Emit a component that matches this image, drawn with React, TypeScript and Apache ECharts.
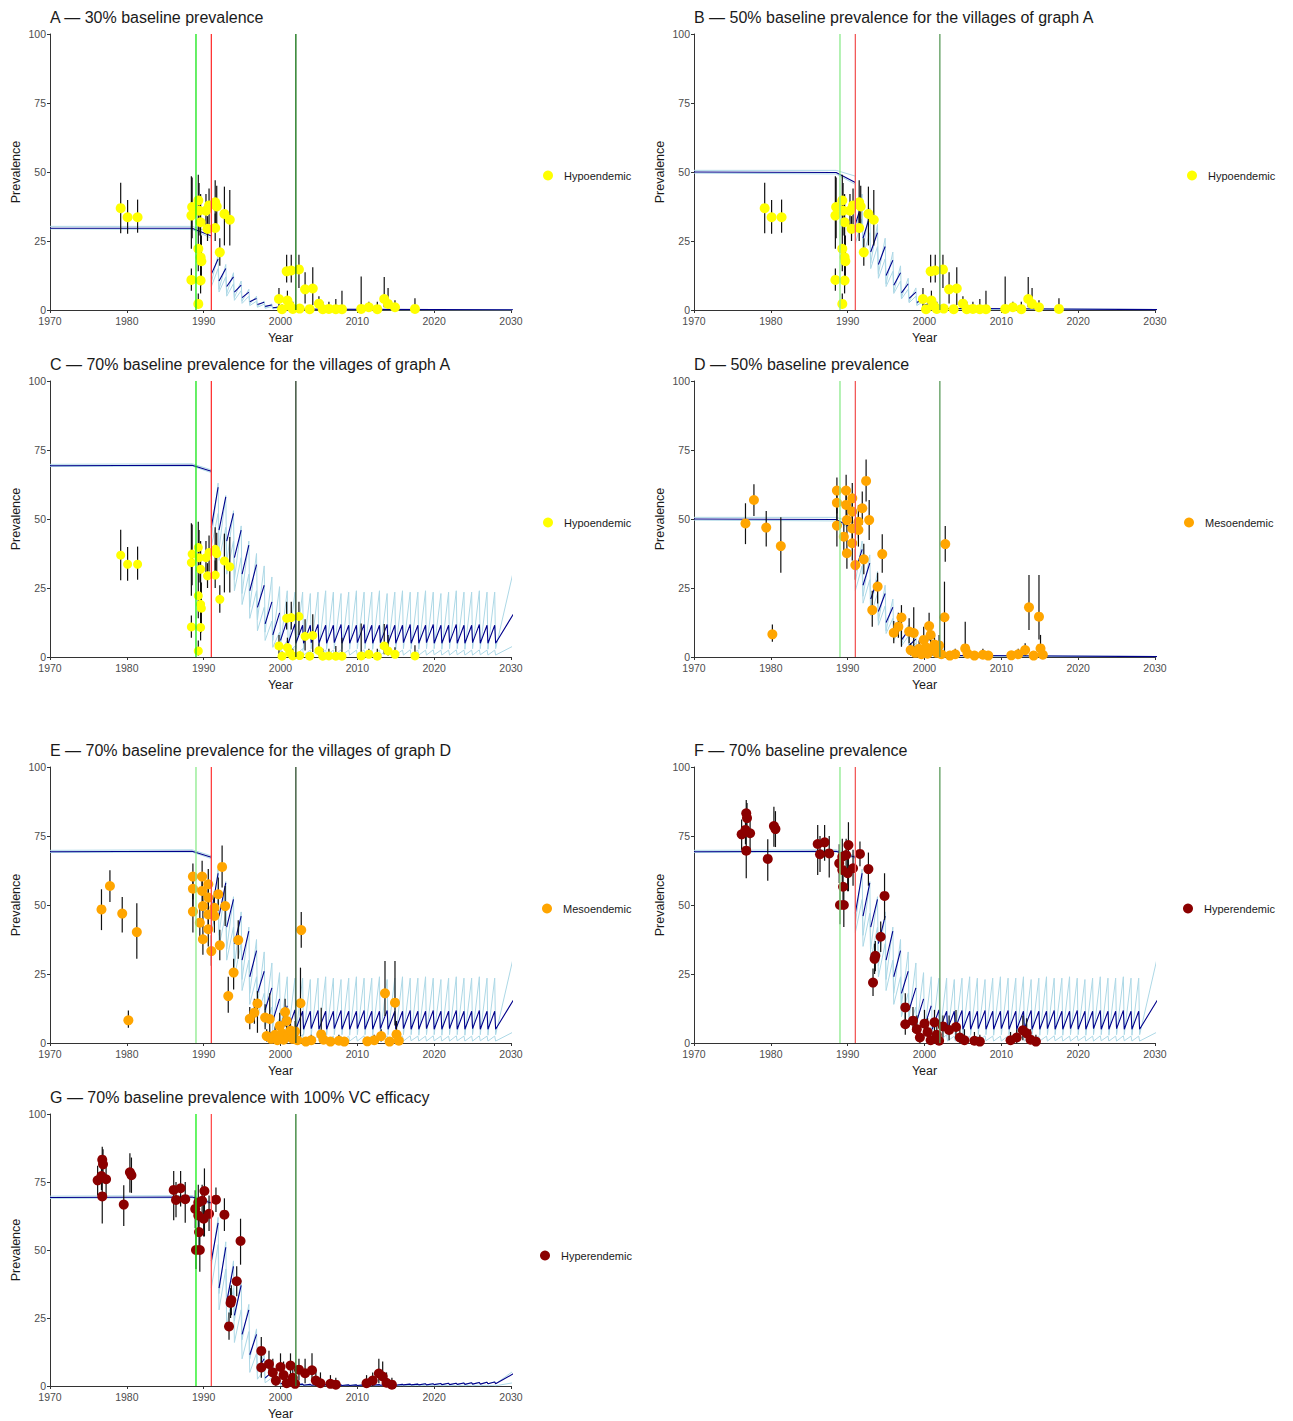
import { useEffect, useRef } from 'react';
import * as echarts from 'echarts';

// Village surveys: [year, prevalence, lower 95% CI, upper 95% CI]
const hypoendemic: number[][] = [
  [1979.2, 36.9, 27.8, 46.1], [1980.1, 33.6, 27.6, 39.9], [1981.4, 33.6, 28, 40],
  [1988.4, 34.2, 22.2, 48.5], [1988.5, 37.3, 26, 48], [1989.3, 39.7, 30, 49],
  [1989.4, 36, 27, 46], [1989.6, 31.8, 22, 42], [1990.3, 36, 30, 42],
  [1990.7, 37.9, 31, 44], [1990.5, 29.4, 25, 34], [1991.5, 39, 31, 47],
  [1991.7, 37.5, 30, 45], [1991.5, 29.7, 25, 35], [1992.7, 34.8, 23.4, 44.7],
  [1993.4, 32.7, 23.4, 43.5], [1992.1, 20.9, 16, 26], [1989.3, 22.2, 14, 30],
  [1989.6, 19.1, 12, 27], [1989.7, 17.7, 9, 27], [1988.4, 10.9, 7, 15],
  [1989.6, 10.7, 6, 16], [1989.3, 2.2, 0.5, 6], [1999.8, 4, 1, 8],
  [2000.8, 14, 10, 20], [2001.4, 14.3, 10, 20], [2002.4, 14.7, 8, 20],
  [2003.2, 7.5, 2.4, 13.7], [2004.2, 7.8, 1.8, 15.5], [2000.9, 3.4, 1, 7],
  [2001.2, 1.5, 0, 4], [2005.0, 2.3, 0.5, 5], [2000.2, 0.3, 0, 2],
  [2001.6, 0.4, 0, 3], [2002.5, 0.5, 0, 2], [2003.8, 0.3, 0, 1.5],
  [2005.5, 0.3, 0, 3], [2006.3, 0.4, 0, 3], [2007.2, 0.3, 0, 4],
  [2008.0, 0.3, 0, 7], [2010.5, 0.4, 0, 12.1], [2011.5, 1, 0, 3],
  [2012.6, 0.3, 0, 3], [2013.5, 4, 1, 12], [2014.0, 2.2, 0.5, 8],
  [2014.9, 1, 0, 3.5], [2017.5, 0.4, 0, 4.3],
];

const mesoendemic: number[][] = [
  [1976.7, 48.4, 40.9, 55.7], [1977.8, 56.9, 51.1, 62.6], [1979.4, 46.9, 40, 52.9],
  [1981.3, 40.2, 30.5, 50.6], [1980.2, 8.2, 5.5, 11.8], [1988.6, 60.3, 52, 65],
  [1988.6, 55.9, 49, 62], [1988.6, 47.6, 40, 55], [1989.8, 60.3, 54, 66],
  [1989.8, 55.1, 48, 62], [1989.9, 49.6, 43, 56], [1989.5, 43.6, 37, 50],
  [1989.9, 37.6, 32, 44], [1990.6, 57.5, 51, 63], [1990.6, 52.7, 46, 59],
  [1990.6, 46.6, 40, 53], [1990.6, 41.2, 35, 47], [1991.0, 33.3, 28, 39],
  [1991.4, 49, 43, 55], [1991.4, 46, 40, 52], [1991.9, 53.9, 48, 60],
  [1992.4, 63.8, 56.3, 71.6], [1992.1, 35.4, 30, 41], [1992.8, 49.6, 42.4, 56.9],
  [1994.5, 37.3, 30.5, 44.5], [1993.9, 25.5, 19.4, 30.5], [1993.2, 17, 11, 24],
  [1996.0, 8.8, 5, 13], [1996.6, 11, 7, 16], [1997.0, 14.3, 3.7, 18.8],
  [1998.0, 9.2, 5, 14], [1998.6, 8.7, 3, 18], [2000.6, 11.2, 6, 16],
  [2000.8, 8, 4, 12], [1999.9, 6.2, 3, 11], [2002.7, 40.9, 34.5, 47.5],
  [2002.6, 14.4, 1.3, 27.3], [1998.2, 2.5, 0.5, 5], [1998.8, 1.5, 0, 4],
  [1999.3, 3, 1, 6], [1999.6, 1, 0, 3], [2000.2, 3.5, 1, 7],
  [2000.4, 1.2, 0, 4], [2001.0, 2.8, 0.5, 6], [2001.3, 4.5, 2, 8],
  [2001.6, 1.5, 0, 5], [2001.9, 4.2, 1.5, 8], [2002.2, 1, 0, 4],
  [2003.3, 0.5, 0, 2], [2004.0, 1, 0, 3], [2005.3, 3.1, 0, 12.8],
  [2005.6, 1.2, 0, 4], [2006.5, 0.5, 0, 2], [2007.6, 0.8, 0, 3],
  [2008.3, 0.5, 0, 2], [2011.3, 0.6, 0, 2], [2012.2, 1, 0, 3],
  [2013.1, 2.5, 0.5, 5], [2013.6, 18, 9.8, 29.7], [2014.9, 14.6, 6.3, 29.7],
  [2015.1, 3.1, 0.5, 8], [2015.4, 0.8, 0, 3], [2014.2, 0.5, 0, 2],
];

const hyperendemic: number[][] = [
  [1976.8, 83.2, 77, 88], [1976.9, 81.5, 76, 87], [1976.2, 75.6, 70, 81],
  [1977.3, 76, 70, 82], [1976.8, 69.7, 59.7, 76], [1976.7, 77.2, 72, 83],
  [1980.4, 78.6, 71.1, 85.6], [1980.6, 77.5, 71, 84], [1979.6, 66.7, 58.8, 73.8],
  [1986.1, 72.1, 60.9, 79], [1987.0, 72.7, 66, 79], [1986.4, 68.4, 62, 75],
  [1987.6, 68.7, 60, 75], [1988.9, 65.1, 58, 72], [1989.3, 67.5, 61, 74],
  [1989.8, 68.1, 62, 74], [1990.1, 71.7, 55, 80], [1990.0, 61.5, 55, 68],
  [1989.3, 62.7, 56, 69], [1990.7, 63.3, 57, 70], [1989.4, 56.6, 50, 63],
  [1989.0, 50, 43, 57], [1989.5, 50, 42, 58], [1991.6, 68.5, 64, 73],
  [1992.7, 63, 57, 69], [1994.8, 53.3, 44.6, 61.5], [1994.3, 38.5, 33, 44],
  [1993.6, 31.6, 26, 37], [1993.5, 30.5, 25, 36], [1993.3, 21.9, 17, 27],
  [1997.5, 12.9, 8, 18], [1997.5, 6.8, 3, 11], [1998.5, 8.1, 4, 13],
  [1999.0, 5, 1, 10], [1999.4, 2, 0, 6], [2000.0, 7, 3, 12],
  [2000.4, 4, 1, 9], [2000.8, 1, 0, 5], [2001.3, 7.5, 3, 12],
  [2001.6, 3, 0, 8], [2001.9, 0.8, 0, 4], [2002.4, 6, 2, 10],
  [2003.2, 4.7, 1, 10], [2004.1, 5.8, 2, 12], [2004.6, 2, 0, 6],
  [2005.2, 1, 0, 5], [2006.5, 0.8, 0, 4], [2007.2, 0.5, 0, 3],
  [2011.2, 1, 0, 4], [2012.0, 2, 0, 5], [2012.8, 4.6, 1, 10],
  [2013.3, 3.5, 0.5, 9], [2013.8, 1.2, 0, 5], [2014.5, 0.5, 0, 3],
];

// Treatment rounds (one tooth of the simulated curve per round)
const roundsA = [1991, 1992, 1993, 1994, 1995, 1996, 1997, 1998, 1999, 2000, 2001];
const roundsB = [1991, 1992, 1993, 1994, 1995, 1996, 1997, 1998, 1999, 2000, 2001, 2002];
const roundsLong = [
  1991, 1992, 1993, 1994, 1995, 1996, 1997, 1998, 1999, 2000,
  2001, 2002, 2003, 2004, 2005, 2006, 2007, 2008, 2009, 2010,
  2011, 2012, 2013, 2014, 2015, 2016, 2017, 2018, 2019, 2020,
  2021, 2022, 2023, 2024, 2025, 2026, 2027, 2028,
];

// Pre-control equilibrium segments: [year, prevalence]
const pre30 = {
  upper: [[1970, 30.3], [1988.5, 30.3], [1991, 28]],
  median: [[1970, 29.6], [1988.5, 29.6], [1991, 26.8]],
  lower: [[1970, 29.4], [1988.5, 29.2], [1991, 26]],
};
const pre50 = {
  upper: [[1970, 50.6], [1988.5, 50.6], [1991, 48.5]],
  median: [[1970, 50], [1988.5, 49.8], [1991, 46.2]],
  lower: [[1970, 49.6], [1988.5, 49.3], [1991, 45.5]],
};
const pre70 = {
  upper: [[1970, 69.8], [1988.5, 70], [1991, 67.8]],
  median: [[1970, 69.3], [1988.5, 69.5], [1991, 67.3]],
  lower: [[1970, 69], [1988.5, 69.2], [1991, 66.8]],
};

// 30% baseline: value right after each round (lo) and just before the next (hi)
const a30UpperLo = [10, 7.5, 6, 4.5, 3.2, 2.2, 1.4, 0.9, 0.6, 0.4, 0.2];
const a30UpperHi = [20, 16.5, 13.5, 10.5, 7.5, 5, 3.2, 2.2, 1.4, 0.9, 0.1];
const a30MedianLo = [13, 10.5, 8.5, 6.5, 4.5, 3, 2, 1.3, 0.8, 0.5, 0.3];
const a30MedianHi = [18.5, 15, 12, 9, 6.5, 4.2, 2.8, 1.8, 1.1, 0.7, 0.1];
const a30LowerLo = [8.5, 6.5, 5, 3.5, 2.4, 1.6, 1, 0.6, 0.4, 0.2, 0.1];
const a30LowerHi = [15, 12, 9.5, 7, 5, 3.2, 2.1, 1.3, 0.8, 0.5, 0.05];

// 50% baseline
const b50UpperLo = [27, 22, 17, 13, 9.5, 6.5, 4.5, 3, 2, 1.2, 0.8, 0.5];
const b50UpperHi = [42, 37, 31, 26, 21, 16, 11.5, 8, 5, 3.2, 2, 0.2];
const b50MedianLo = [31, 26, 21, 16.5, 12.5, 9, 6.2, 4.2, 2.7, 1.7, 1.1, 0.6];
const b50MedianHi = [39, 34, 28, 23, 18, 13.5, 9.5, 6.5, 4.2, 2.7, 1.7, 0.15];
const b50LowerLo = [24, 19.5, 15, 11.5, 8.5, 6, 4, 2.6, 1.6, 1, 0.6, 0.3];
const b50LowerHi = [33, 28, 23, 18.5, 14, 10.5, 7.5, 5, 3.2, 2, 1.2, 0.1];

// 70% baseline
const c70UpperLo = [
  43, 39, 34, 28, 23, 18, 13.5, 9, 6, 4, 3, 3,
  2.8, 3, 3, 2.8, 3, 3, 2.8, 3, 3, 2.8, 3, 3, 2.8, 3,
  3, 2.8, 3, 3, 2.8, 3, 3, 2.8, 3, 3, 2.8, 3,
];
const c70UpperHi = [
  63, 58.5, 53, 47.5, 42, 37.5, 33, 29, 25.5, 24, 23.5, 23.5,
  23, 23.5, 24, 23.5, 23, 23.5, 24, 23.5, 23.5, 24, 23, 23.5, 24, 23.5,
  23.5, 24, 23.5, 23, 23.5, 24, 23.5, 23.5, 24, 23.5, 23.5, 31,
];
const c70MedianLo = [
  47, 46, 42, 36, 30, 24, 18, 12, 8, 6, 5, 5,
  5, 5.2, 5, 5, 5.2, 5, 5, 5.2, 5, 5, 5.2, 5, 5, 5.2,
  5, 5, 5.2, 5, 5, 5.2, 5, 5, 5.2, 5, 5, 5,
];
const c70MedianHi = [
  61.5, 58, 52, 46, 40.5, 33.5, 26, 20, 16, 13.5, 12, 11.5,
  11.5, 11.8, 11.5, 11.5, 11.8, 11.5, 11.5, 11.8, 11.5, 11.5, 11.8, 11.5, 11.5, 11.8,
  11.5, 11.5, 11.8, 11.5, 11.5, 11.8, 11.5, 11.5, 11.8, 11.5, 11.5, 15.5,
];
const c70LowerLo = [
  40, 35, 30, 24, 19, 14, 9.5, 6, 3.5, 2, 1.2, 0.8,
  0.7, 0.7, 0.8, 0.7, 0.7, 0.8, 0.7, 0.7, 0.8, 0.7, 0.7, 0.8, 0.7, 0.7,
  0.8, 0.7, 0.7, 0.8, 0.7, 0.7, 0.8, 0.7, 0.7, 0.8, 0.7, 0.7,
];
const c70LowerHi = [
  52, 47, 42, 36, 30, 24, 18, 13, 9, 6, 4, 3,
  2.5, 2.6, 2.5, 2.5, 2.6, 2.5, 2.5, 2.6, 2.5, 2.5, 2.6, 2.5, 2.5, 2.6,
  2.5, 2.5, 2.6, 2.5, 2.5, 2.6, 2.5, 2.5, 2.6, 2.5, 2.5, 4,
];

// 70% baseline with 100% vector-control efficacy
const g70UpperLo = [
  44, 34, 29, 24, 17, 10, 5, 2.5, 1.3, 0.7,
  0.5, 0.4, 0.3, 0.3, 0.2, 0.2, 0.2, 0.2, 0.2, 0.2, 0.2, 0.3, 0.3, 0.3,
  0.3, 0.4, 0.4, 0.4, 0.4, 0.5, 0.5, 0.5, 0.6, 0.6, 0.7, 0.7, 0.8, 0.8,
];
const g70UpperHi = [
  62, 53, 46, 39, 30, 21, 12, 6, 3, 1.6,
  1, 0.8, 0.7, 0.6, 0.6, 0.5, 0.5, 0.5, 0.5, 0.5, 0.6, 0.6, 0.6, 0.7,
  0.7, 0.8, 0.8, 0.9, 0.9, 1, 1.1, 1.1, 1.2, 1.3, 1.4, 1.5, 1.6, 5.5,
];
const g70MedianLo = [
  46, 36, 31, 26, 19, 11.5, 6, 3, 1.5, 0.8,
  0.5, 0.4, 0.3, 0.3, 0.2, 0.2, 0.2, 0.2, 0.2, 0.2, 0.2, 0.3, 0.3, 0.3,
  0.3, 0.4, 0.4, 0.4, 0.4, 0.5, 0.5, 0.5, 0.6, 0.6, 0.7, 0.7, 0.8, 0.8,
];
const g70MedianHi = [
  60, 51, 44, 37, 28, 19, 10, 5, 2.5, 1.3,
  0.9, 0.7, 0.6, 0.5, 0.5, 0.4, 0.4, 0.4, 0.4, 0.4, 0.5, 0.5, 0.5, 0.6,
  0.6, 0.7, 0.7, 0.8, 0.8, 0.9, 1, 1, 1.1, 1.2, 1.3, 1.4, 1.5, 4.5,
];
const g70LowerLo = [
  36, 28, 22, 16, 10, 5, 2.5, 1.2, 0.5, 0.2,
  0.1, 0.1, 0.1, 0.1, 0.1, 0.1, 0.1, 0.1, 0.1, 0.1, 0.1, 0.1, 0.1, 0.1,
  0.1, 0.1, 0.1, 0.1, 0.1, 0.1, 0.1, 0.1, 0.1, 0.1, 0.1, 0.1, 0.1, 0.1,
];
const g70LowerHi = [
  52, 43, 36, 28, 20, 12, 6, 3, 1.5, 0.7,
  0.2, 0.2, 0.2, 0.2, 0.2, 0.2, 0.2, 0.2, 0.2, 0.2, 0.2, 0.2, 0.2, 0.2,
  0.2, 0.2, 0.2, 0.2, 0.2, 0.2, 0.2, 0.2, 0.3, 0.3, 0.3, 0.3, 0.3, 1.2,
];

const END_YEAR = 2030.3;
// Before this year the median's drop at each round is left undrawn (dashed look)
const MEDIAN_GAP_UNTIL = 2002;

// Joins the pre-control segment with one rising tooth per treatment round.
function sawtooth(pre: number[][], rounds: number[], lo: number[], hi: number[], gapUntil = 0): any[] {
  const pts: any[] = pre.map((p) => [p[0], p[1]]);
  rounds.forEach((t, i) => {
    const next = i + 1 < rounds.length ? rounds[i + 1] - 0.12 : END_YEAR;
    if (t < gapUntil) pts.push(null);
    pts.push([t, lo[i]], [next, hi[i]]);
  });
  return pts;
}

type Model = { upper: any[]; median: any[]; lower: any[] };

const model30: Model = {
  upper: sawtooth(pre30.upper, roundsA, a30UpperLo, a30UpperHi),
  median: sawtooth(pre30.median, roundsA, a30MedianLo, a30MedianHi, MEDIAN_GAP_UNTIL),
  lower: sawtooth(pre30.lower, roundsA, a30LowerLo, a30LowerHi),
};
const model50: Model = {
  upper: sawtooth(pre50.upper, roundsB, b50UpperLo, b50UpperHi),
  median: sawtooth(pre50.median, roundsB, b50MedianLo, b50MedianHi, MEDIAN_GAP_UNTIL),
  lower: sawtooth(pre50.lower, roundsB, b50LowerLo, b50LowerHi),
};
const model70: Model = {
  upper: sawtooth(pre70.upper, roundsLong, c70UpperLo, c70UpperHi),
  median: sawtooth(pre70.median, roundsLong, c70MedianLo, c70MedianHi, MEDIAN_GAP_UNTIL),
  lower: sawtooth(pre70.lower, roundsLong, c70LowerLo, c70LowerHi),
};
const model70vc: Model = {
  upper: sawtooth(pre70.upper, roundsLong, g70UpperLo, g70UpperHi),
  median: sawtooth(pre70.median, roundsLong, g70MedianLo, g70MedianHi, MEDIAN_GAP_UNTIL),
  lower: sawtooth(pre70.lower, roundsLong, g70LowerLo, g70LowerHi),
};

// Intervention dates drawn as vertical rules
const interventionYears = [1989, 1991, 2002];

const groups: Record<string, { name: string; color: string; data: number[][] }> = {
  hypo: { name: 'Hypoendemic', color: '#ffff00', data: hypoendemic },
  meso: { name: 'Mesoendemic', color: '#ffa500', data: mesoendemic },
  hyper: { name: 'Hyperendemic', color: '#8b0000', data: hyperendemic },
};

const vivid = ['#14e614', '#ff3535', '#0e6e0e'];
const soft = ['#8ceb8c', '#f25a5a', '#5b9b5b'];

const panels = [
  { title: 'A — 30% baseline prevalence', left: 50, top: 34, group: 'hypo', model: model30, rules: vivid, legendX: 548, size: 10 },
  { title: 'B — 50% baseline prevalence for the villages of graph A', left: 694, top: 34, group: 'hypo', model: model50, rules: soft, legendX: 1192, size: 10 },
  { title: 'C — 70% baseline prevalence for the villages of graph A', left: 50, top: 381, group: 'hypo', model: model70, rules: ['#14e614', '#ff3535', '#223a22'], legendX: 548, size: 9 },
  { title: 'D — 50% baseline prevalence', left: 694, top: 381, group: 'meso', model: model50, rules: soft, legendX: 1189, size: 10 },
  { title: 'E — 70% baseline prevalence for the villages of graph D', left: 50, top: 767, group: 'meso', model: model70, rules: ['#8ceb8c', '#ff4040', '#2a4a2a'], legendX: 547, size: 10 },
  { title: 'F — 70% baseline prevalence', left: 694, top: 767, group: 'hyper', model: model70, rules: soft, legendX: 1188, size: 10 },
  { title: 'G — 70% baseline prevalence with 100% VC efficacy', left: 50, top: 1114, group: 'hyper', model: model70vc, rules: ['#14f014', '#ff4f4f', '#2e7d2e'], legendX: 545, size: 10 },
];

const PLOT_W = 461;
const PLOT_H = 276;
const FONT = 'Liberation Sans, Arial, Helvetica, sans-serif';

function buildOption(): any {
  const axisLine = { show: true, lineStyle: { color: '#333333', width: 1 } };
  const axisTick = { show: true, length: 3, lineStyle: { color: '#333333', width: 1 } };
  const nameStyle = { fontSize: 12.5, color: '#1a1a1a', fontFamily: FONT };
  const series: any[] = [];

  panels.forEach((p, i) => {
    const g = groups[p.group];
    const axes = { xAxisIndex: i, yAxisIndex: i };
    const lineBase = { type: 'line', ...axes, symbol: 'none', silent: true, clip: true, connectNulls: false };
    series.push({ ...lineBase, data: p.model.upper, lineStyle: { color: '#add8e6', width: 1 }, z: 1 });
    series.push({ ...lineBase, data: p.model.lower, lineStyle: { color: '#add8e6', width: 1 }, z: 1 });
    series.push({ ...lineBase, data: p.model.median, lineStyle: { color: '#00008b', width: 1.1 }, z: 2 });
    series.push({
      type: 'custom',
      ...axes,
      silent: true,
      z: 3,
      data: g.data.map((d) => [d[0], d[2], d[3]]),
      encode: { x: 0, y: [1, 2] },
      renderItem: (_params: any, api: any) => {
        const a = api.coord([api.value(0), api.value(1)]);
        const b = api.coord([api.value(0), api.value(2)]);
        return {
          type: 'line',
          shape: { x1: a[0], y1: a[1], x2: b[0], y2: b[1] },
          style: { stroke: '#111111', lineWidth: 1.2 },
        };
      },
    });
    series.push({
      type: 'scatter',
      name: g.name,
      ...axes,
      data: g.data.map((d) => [d[0], d[1]]),
      symbol: 'circle',
      symbolSize: p.size,
      itemStyle: { color: g.color, opacity: 1 },
      z: 4,
    });
    interventionYears.forEach((yr, k) => {
      series.push({
        ...lineBase,
        data: [[yr, 0], [yr, 100]],
        lineStyle: { color: p.rules[k], width: 1.3 },
        z: 5,
      });
    });
  });

  return {
    animation: false,
    backgroundColor: '#ffffff',
    textStyle: { fontFamily: FONT },
    title: panels.map((p) => ({
      text: p.title,
      left: p.left,
      top: p.top - 25,
      padding: 0,
      textStyle: { fontSize: 16, fontWeight: 'normal', color: '#1a1a1a', fontFamily: FONT },
    })),
    legend: panels.map((p) => ({
      left: p.legendX - 5,
      top: p.top + 143 - 7,
      padding: 0,
      selectedMode: false,
      itemWidth: 22,
      itemHeight: 10,
      data: [{ name: groups[p.group].name, icon: 'circle' }],
      textStyle: { fontSize: 11, color: '#1a1a1a', fontFamily: FONT },
    })),
    grid: panels.map((p) => ({ left: p.left, top: p.top, width: PLOT_W, height: PLOT_H, containLabel: false })),
    xAxis: panels.map((_p, i) => ({
      type: 'value',
      gridIndex: i,
      min: 1970,
      max: 2030,
      interval: 10,
      axisLine,
      axisTick,
      splitLine: { show: false },
      axisLabel: { color: '#4d4d4d', fontSize: 10.5, margin: 5, fontFamily: FONT, formatter: (v: number) => String(v) },
      name: 'Year',
      nameLocation: 'middle',
      nameGap: 21,
      nameTextStyle: nameStyle,
    })),
    yAxis: panels.map((_p, i) => ({
      type: 'value',
      gridIndex: i,
      min: 0,
      max: 100,
      interval: 25,
      axisLine,
      axisTick,
      splitLine: { show: false },
      axisLabel: { color: '#4d4d4d', fontSize: 10.5, margin: 4, fontFamily: FONT },
      name: 'Prevalence',
      nameLocation: 'middle',
      nameRotate: 90,
      nameGap: 28,
      nameTextStyle: nameStyle,
    })),
    series,
  };
}

export default function App() {
  const ref = useRef<HTMLDivElement>(null);
  useEffect(() => {
    document.body.style.margin = '0';
    if (!ref.current) return;
    const chart = echarts.init(ref.current, null, { renderer: 'svg' });
    chart.setOption(buildOption());
    return () => chart.dispose();
  }, []);
  return <div ref={ref} style={{ width: 1293, height: 1421, background: '#ffffff' }} />;
}
